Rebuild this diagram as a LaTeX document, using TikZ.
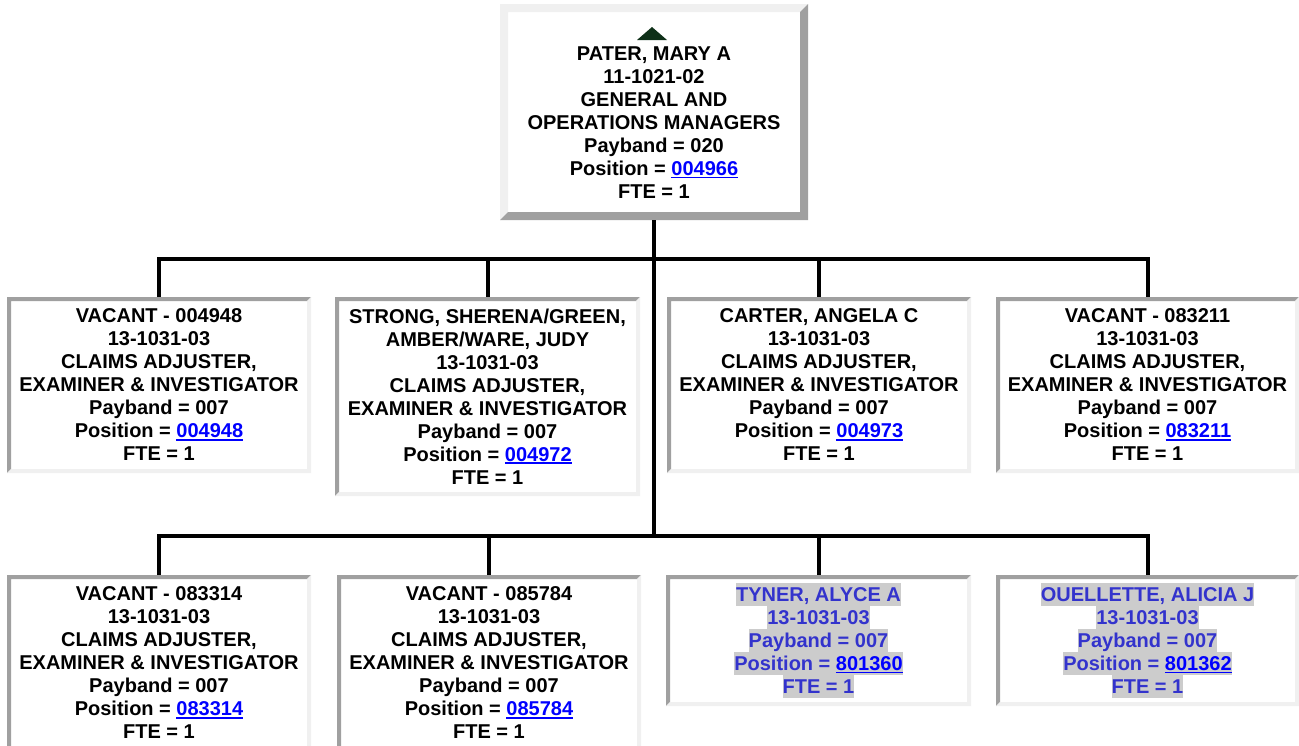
\documentclass[tikz,border=0pt]{standalone}
\usepackage{fontspec}
\setmainfont{Liberation Sans}
\usetikzlibrary{calc}
\definecolor{bdark}{RGB}{160,160,160}
\definecolor{blight}{RGB}{240,240,240}
\definecolor{linkblue}{RGB}{0,0,255}
\definecolor{hltext}{RGB}{51,51,204}
\definecolor{hlgray}{RGB}{204,204,204}
\definecolor{trigreen}{RGB}{14,48,24}
\newcommand\lnk[1]{{\color{linkblue}\setbox0\hbox{#1}\rlap{\rule[-2.6pt]{\wd0}{1.6pt}}\box0}}
\newcommand\hl[1]{{\setlength\fboxsep{0pt}\colorbox{hlgray}{\rule[-4.5pt]{0pt}{23pt}#1}}}
\newcommand\bevel[4]{%
  \fill[#3] (#1.north west) -- (#1.north east) -- ($(#1.north east)+(-#2,#2)$) -- ($(#1.north west)+(#2,#2)$) -- ($(#1.south west)+(#2,-#2)$) -- (#1.south west) -- cycle;
  \fill[#4] (#1.north east) -- (#1.south east) -- (#1.south west) -- ($(#1.south west)+(#2,-#2)$) -- ($(#1.south east)+(-#2,-#2)$) -- ($(#1.north east)+(-#2,#2)$) -- cycle;}
\tikzset{
  box/.style={rectangle, inner sep=0pt, outer sep=0pt, align=center,
    font=\fontsize{20}{23}\selectfont\bfseries, text=black},
  hlbox/.style={box, text=hltext},
  conn/.style={draw=black, line width=4pt},
}
\begin{document}
\begin{tikzpicture}[x=1pt,y=-1pt]
\fill[white] (0,0) rectangle (1299,745);
\useasboundingbox (0,0) rectangle (1299,745);
\clip (0,0) rectangle (1299,745);

% top box
\node[box, minimum width=308pt, minimum height=216pt] (top) at (654,112) {};
\bevel{top}{8}{blight}{bdark}
\fill[trigreen] (637,40) -- (652,27) -- (667,40) -- cycle;
\node[box] (toptext) at (654,123) {PATER, MARY A\\11-1021-02\\GENERAL AND\\OPERATIONS MANAGERS\\Payband = 020\\Position = \lnk{004966}\\FTE = 1};

% row 1
\node[box, minimum width=304pt, minimum height=176pt] (c1) at (159,385)
 {VACANT - 004948\\13-1031-03\\CLAIMS ADJUSTER,\\EXAMINER \& INVESTIGATOR\\Payband = 007\\Position = \lnk{004948}\\FTE = 1};
\node[box, minimum width=305pt, minimum height=199pt] (c2) at (487.5,396.5)
 {STRONG, SHERENA/GREEN,\\AMBER/WARE, JUDY\\13-1031-03\\CLAIMS ADJUSTER,\\EXAMINER \& INVESTIGATOR\\Payband = 007\\Position = \lnk{004972}\\FTE = 1};
\node[box, minimum width=304pt, minimum height=176pt] (c3) at (819,385)
 {CARTER, ANGELA C\\13-1031-03\\CLAIMS ADJUSTER,\\EXAMINER \& INVESTIGATOR\\Payband = 007\\Position = \lnk{004973}\\FTE = 1};
\node[box, minimum width=303pt, minimum height=176pt] (c4) at (1147.5,385)
 {VACANT - 083211\\13-1031-03\\CLAIMS ADJUSTER,\\EXAMINER \& INVESTIGATOR\\Payband = 007\\Position = \lnk{083211}\\FTE = 1};

% row 2
\node[box, minimum width=304pt, minimum height=176pt] (c5) at (159,663)
 {VACANT - 083314\\13-1031-03\\CLAIMS ADJUSTER,\\EXAMINER \& INVESTIGATOR\\Payband = 007\\Position = \lnk{083314}\\FTE = 1};
\node[box, minimum width=304pt, minimum height=176pt] (c6) at (489,663)
 {VACANT - 085784\\13-1031-03\\CLAIMS ADJUSTER,\\EXAMINER \& INVESTIGATOR\\Payband = 007\\Position = \lnk{085784}\\FTE = 1};
\node[hlbox, minimum width=305pt, minimum height=131pt] (c7) at (818.5,640.5)
 {\hl{TYNER, ALYCE A}\\\hl{13-1031-03}\\\hl{Payband = 007}\\\hl{Position = \lnk{801360}}\\\hl{FTE = 1}};
\node[hlbox, minimum width=303pt, minimum height=131pt] (c8) at (1147.5,640.5)
 {\hl{OUELLETTE, ALICIA J}\\\hl{13-1031-03}\\\hl{Payband = 007}\\\hl{Position = \lnk{801362}}\\\hl{FTE = 1}};

\foreach \n in {c1,c2,c3,c4,c5,c6,c7,c8} {\bevel{\n}{4}{bdark}{blight}}

% connectors
\coordinate (j1) at (654,259);
\coordinate (j2) at (654,536);
\draw[conn] (top.south) -- (j2);
\draw[conn] (c1.north) |- (j1) -| (c4.north);
\draw[conn] (j1) -| (c2.north);
\draw[conn] (j1) -| (c3.north);
\draw[conn] (c5.north) |- (j2) -| (c8.north);
\draw[conn] (j2) -| (c6.north);
\draw[conn] (j2) -| (c7.north);
\end{tikzpicture}
\end{document}
